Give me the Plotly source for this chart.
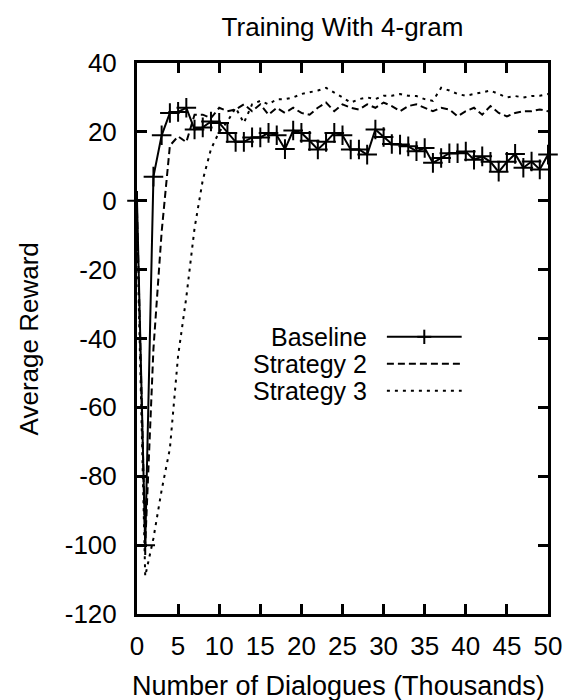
import plotly.graph_objects as go

# ---- data ----
x_thousands = list(range(0, 51))

baseline = [0, -100, 7, 19, 25.5, 25.8, 27, 20.7, 21.3, 23, 22.6,
            19.7, 17.1, 17.1, 18.4, 18.4, 19.7, 19, 15, 20.4, 19.7,
            17.4, 14.9, 17.1, 19.7, 19, 14.9, 14.9, 13.4, 20.7, 18.5,
            16.5, 16.3, 15.8, 14.4, 15.3, 11, 12.4, 13.8, 13.8, 14.3,
            11.9, 12.9, 11.3, 8.4, 11.3, 13.6, 9.6, 11.4, 9.1, 13.4]

strategy2 = [-3, -100, -43, -9, 16, 18.7, 17, 25, 25, 24, 27,
             26, 26.5, 28, 26, 28, 25, 27, 25.5, 27, 25.5,
             25, 27, 28.5, 26, 28, 27, 26.5, 28, 27, 28.5,
             27.5, 26, 27.5, 28, 27, 26, 27, 26.5, 24.5, 26,
             27, 25, 27.5, 25.5, 24.5, 25.5, 26, 26, 26.5, 26]

strategy3 = [-8, -109, -98, -84, -72, -45, -28, -8, 6, 15, 20,
             23, 27, 22.6, 28, 29, 28, 29.5, 29.5, 30, 31,
             31.5, 32, 32.8, 31.5, 30, 28.5, 29.5, 30, 29.5, 30.5,
             30.5, 31, 30.5, 30.4, 29.5, 29, 32.8, 32, 31, 30.5,
             31, 31.5, 32, 31, 30, 30.4, 30, 30.4, 30.5, 31]

series_names = ["Baseline", "Strategy 2", "Strategy 3"]
x_ticks = list(range(0, 51, 5))
y_ticks = list(range(-120, 41, 20))
x_ticktext = [str(v) for v in x_ticks]
y_ticktext = [str(v) for v in y_ticks]   # plain hyphen-minus like the original

FONT = "Liberation Sans, Arial, sans-serif"
FS = 26

fig = go.Figure()
fig.add_trace(go.Scatter(
    x=x_thousands, y=baseline, mode="lines+markers", name=series_names[0],
    line=dict(color="black", width=2),
    marker=dict(symbol="cross-thin", size=14, color="black",
                line=dict(color="black", width=2)),
    cliponaxis=False))
fig.add_trace(go.Scatter(
    x=x_thousands, y=strategy2, mode="lines", name=series_names[1],
    line=dict(color="black", width=2, dash="7px,4px")))
fig.add_trace(go.Scatter(
    x=x_thousands, y=strategy3, mode="lines", name=series_names[2],
    line=dict(color="black", width=2, dash="3px,5px")))

axis_common = dict(
    showline=True, linecolor="black", linewidth=3, mirror="ticks",
    ticks="inside", ticklen=10, tickwidth=3, tickcolor="black",
    showgrid=False, zeroline=False,
    tickfont=dict(family=FONT, size=FS, color="black"),
)
fig.update_xaxes(range=[0, 50], tickvals=x_ticks, ticktext=x_ticktext,
                 ticklabelstandoff=7, **axis_common)
fig.update_yaxes(range=[-120, 40], tickvals=y_ticks, ticktext=y_ticktext,
                 ticklabelstandoff=12, **axis_common)

# manual legend (text on the left, sample on the right, like gnuplot)
legend_rows_y = [0.503, 0.454, 0.405]
dashes = ["solid", "7px,4px", "3px,5px"]
shapes = []
annotations = []
for name, yy, dsh in zip(series_names, legend_rows_y, dashes):
    annotations.append(dict(
        x=0.564, y=yy, xref="paper", yref="paper", text=name,
        showarrow=False, xanchor="right", yanchor="middle",
        font=dict(family=FONT, size=25, color="black")))
    shapes.append(dict(type="line", xref="paper", yref="paper",
                       x0=0.608, x1=0.790, y0=yy, y1=yy,
                       line=dict(color="black", width=2, dash=dsh)))
# plus sign of the baseline legend sample
shapes.append(dict(type="line", xref="paper", yref="paper",
                   x0=0.682, x1=0.716, y0=legend_rows_y[0], y1=legend_rows_y[0],
                   line=dict(color="black", width=2)))
shapes.append(dict(type="line", xref="paper", yref="paper",
                   x0=0.699, x1=0.699, y0=legend_rows_y[0] - 0.013,
                   y1=legend_rows_y[0] + 0.013,
                   line=dict(color="black", width=2)))

annotations.append(dict(
    x=0.49, y=(614 - 686) / 551, xref="paper", yref="paper",
    text="Number of Dialogues (Thousands)", showarrow=False,
    xanchor="center", yanchor="middle",
    font=dict(family=FONT, size=27, color="black")))
annotations.append(dict(
    x=-0.263, y=0.5, xref="paper", yref="paper",
    text="Average Reward", showarrow=False, textangle=-90,
    xanchor="center", yanchor="middle",
    font=dict(family=FONT, size=FS, color="black")))

fig.update_layout(
    width=574, height=700,
    margin=dict(l=137, r=23, t=63, b=86),
    paper_bgcolor="white", plot_bgcolor="white",
    showlegend=False,
    title=dict(text="Training With 4-gram", x=0.5, xref="paper",
               y=1 - 27 / 700, yref="container", yanchor="middle",
               xanchor="center",
               font=dict(family=FONT, size=26, color="black")),
    shapes=shapes, annotations=annotations,
)

fig.write_html("out.html",
               config={"displayModeBar": False},
               post_script="document.body.style.margin='0px';document.body.style.padding='0px';")
